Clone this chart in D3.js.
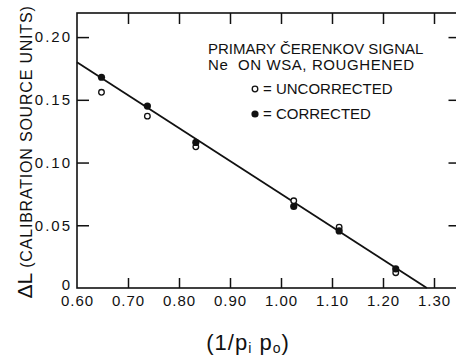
<!DOCTYPE html>
<html lang="en">
<head>
<meta charset="UTF-8">
<title>Primary Cerenkov signal</title>
<script src="https://cdn.jsdelivr.net/npm/d3@7/dist/d3.min.js"></script>
<style>
  body { margin: 0; background: #fff; }
  svg { display: block; font-family: "Liberation Sans", Arial, sans-serif; }
  text { white-space: pre; }
</style>
</head>
<body>
<script>
  // values
  var xPos = [0.648, 0.738, 0.833, 1.025, 1.114, 1.225];
  var corrected = [0.168, 0.145, 0.116, 0.065, 0.0455, 0.0152];
  var uncorrected = [0.156, 0.137, 0.1125, 0.0695, 0.0485, 0.0122];
  var fitX = [0.60, 1.286];
  var fitY = [0.180, 0];

  var xTicks = [0.60, 0.70, 0.80, 0.90, 1.00, 1.10, 1.20, 1.30];
  var xTickLabels = ["0.60", "0.70", "0.80", "0.90", "1.00", "1.10", "1.20", "1.30"];
  var yTicks = [0, 0.05, 0.10, 0.15, 0.20];
  var yTickLabels = ["0", "0.05", "0.10", "0.15", "0.20"];

  var w = 456, h = 358;
  var svg = d3.select("body").append("svg")
    .attr("width", w)
    .attr("height", h);

  // plot box (right edge sits just past the picture)
  var boxL = 77, boxR = 459.5, boxT = 13, boxB = 288;

  var x = d3.scaleLinear().domain([0.60, 1.35]).range([boxL, boxR]);
  var y = d3.scaleLinear().domain([0, 0.2192]).range([boxB, boxT]);

  //frame
  svg.append("rect")
    .attr("x", boxL).attr("y", boxT)
    .attr("width", boxR - boxL).attr("height", boxB - boxT)
    .attr("fill", "none").attr("stroke", "#111").attr("stroke-width", 1.6);

  // bottom axis, ticks pointing in
  var xAxis = svg.append("g")
    .attr("transform", "translate(0," + boxB + ")")
    .call(d3.axisBottom(x).tickValues(xTicks).tickSize(-10).tickSizeOuter(0).tickPadding(7)
      .tickFormat(function(d, i) { return xTickLabels[i]; }));
  // top axis
  var xTop = svg.append("g")
    .attr("transform", "translate(0," + boxT + ")")
    .call(d3.axisTop(x).tickValues(xTicks.slice(1)).tickSize(-11).tickSizeOuter(0).tickFormat(""));
  // left axis
  var yAxis = svg.append("g")
    .attr("transform", "translate(" + boxL + ",0)")
    .call(d3.axisLeft(y).tickValues(yTicks).tickSize(-12).tickSizeOuter(0).tickPadding(5)
      .tickFormat(function(d, i) { return yTickLabels[i]; }));
  // right axis
  var yRight = svg.append("g")
    .attr("transform", "translate(" + boxR + ",0)")
    .call(d3.axisRight(y).tickValues(yTicks.slice(1)).tickSize(-11).tickSizeOuter(0).tickFormat(""));

  [xAxis, xTop, yAxis, yRight].forEach(function(g) {
    g.select(".domain").remove();
    g.selectAll(".tick line").attr("stroke", "#111").attr("stroke-width", 1.5);
    g.selectAll(".tick text")
      .attr("fill", "#111")
      .style("font-size", "15px")
      .style("letter-spacing", "1px");
  });
  yAxis.selectAll(".tick text").style("letter-spacing", "2px");
  xAxis.selectAll(".tick line").filter(function(d) { return d === 0.60; }).remove();
  yAxis.selectAll(".tick line").filter(function(d) { return d === 0; }).remove();
  yAxis.selectAll(".tick text").filter(function(d) { return d === 0; }).attr("dy", "0.1em");

  // fitted line
  var line = d3.line()
    .x(function(d) { return x(d[0]); })
    .y(function(d) { return y(d[1]); });
  svg.append("path")
    .datum(d3.zip(fitX, fitY))
    .attr("d", line)
    .attr("fill", "none")
    .attr("stroke", "#111")
    .attr("stroke-width", 1.8);

  // uncorrected (open) and corrected (filled) points
  svg.selectAll("circle.unc")
    .data(d3.zip(xPos, uncorrected))
    .enter().append("circle")
    .attr("class", "unc")
    .attr("cx", function(d) { return x(d[0]); })
    .attr("cy", function(d) { return y(d[1]); })
    .attr("r", 2.8)
    .attr("fill", "#fff")
    .attr("stroke", "#111")
    .attr("stroke-width", 1.3);

  svg.selectAll("circle.cor")
    .data(d3.zip(xPos, corrected))
    .enter().append("circle")
    .attr("class", "cor")
    .attr("cx", function(d) { return x(d[0]); })
    .attr("cy", function(d) { return y(d[1]); })
    .attr("r", 3.6)
    .attr("fill", "#111");

  // legend block
  var leg = svg.append("g").style("font-size", "15px").attr("fill", "#111");
  leg.append("text").attr("x", 208).attr("y", 54).text("PRIMARY ČERENKOV SIGNAL");
  leg.append("text").attr("x", 208).attr("y", 70).style("letter-spacing", "0.6px")
    .text("Ne  ON WSA, ROUGHENED");
  leg.append("circle").attr("cx", 255).attr("cy", 89).attr("r", 2.8)
    .attr("fill", "#fff").attr("stroke", "#111").attr("stroke-width", 1.3);
  leg.append("text").attr("x", 263).attr("y", 94).text("= UNCORRECTED");
  leg.append("circle").attr("cx", 255).attr("cy", 114).attr("r", 3.6).attr("fill", "#111");
  leg.append("text").attr("x", 263).attr("y", 119).text("= CORRECTED");

  // y axis title
  var yt = svg.append("text")
    .attr("transform", "translate(32,152) rotate(-90)")
    .attr("text-anchor", "middle")
    .attr("fill", "#111");
  yt.append("tspan").style("font-size", "21px").text("ΔL ");
  yt.append("tspan").style("font-size", "16px").style("letter-spacing", "0.8px")
    .text("(CALIBRATION SOURCE UNITS)");

  // x axis title
  var xt = svg.append("text")
    .attr("x", 248).attr("y", 350)
    .attr("text-anchor", "middle")
    .attr("fill", "#111")
    .style("font-size", "22px")
    .style("letter-spacing", "1px");
  xt.append("tspan").text("(1/p");
  xt.append("tspan").attr("dy", 3).style("font-size", "14px").text("i");
  xt.append("tspan").attr("dy", -3).text(" p");
  xt.append("tspan").attr("dy", 3).style("font-size", "14px").text("o");
  xt.append("tspan").attr("dy", -3).text(")");
</script>
</body>
</html>
